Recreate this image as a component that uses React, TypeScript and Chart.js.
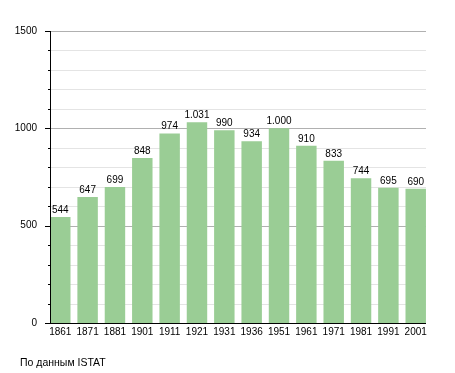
import React, { useEffect, useRef } from "react";
import { Chart, registerables } from "chart.js";

Chart.register(...registerables);

const years = ["1861", "1871", "1881", "1901", "1911", "1921", "1931", "1936", "1951", "1961", "1971", "1981", "1991", "2001"];
const population = [544, 647, 699, 848, 974, 1031, 990, 934, 1000, 910, 833, 744, 695, 690];
const yMin = 0;
const yMax = 1500;
const yStep = 100;
const yMajor = 500;
const footerText = "По данным ISTAT";

const FONT = "'Liberation Sans', Arial, sans-serif";

function fmt(v: number): string {
  return String(v).replace(/\B(?=(\d{3})+(?!\d))/g, ".");
}

export default function App() {
  const ref = useRef<HTMLCanvasElement | null>(null);

  useEffect(() => {
    if (!ref.current) return;
    const AXIS_X = 50;
    const RIGHT_X = 426;

    const plugin = {
      id: "custom",
      beforeDatasetsDraw(chart: any) {
        const { ctx } = chart;
        const y = chart.scales.y;
        ctx.save();
        for (let v = yMin + yStep; v <= yMax; v += yStep) {
          const py = Math.round(y.getPixelForValue(v)) + 0.5;
          ctx.strokeStyle = v % yMajor === 0 ? "#b0b0b0" : "#e4e4e4";
          ctx.lineWidth = 1;
          ctx.beginPath();
          ctx.moveTo(AXIS_X, py);
          ctx.lineTo(RIGHT_X, py);
          ctx.stroke();
        }
        ctx.restore();
      },
      afterDatasetsDraw(chart: any) {
        const { ctx } = chart;
        const y = chart.scales.y;
        ctx.save();
        ctx.strokeStyle = "#000";
        ctx.lineWidth = 1;
        const top = Math.round(y.getPixelForValue(yMax));
        const bottom = Math.round(y.getPixelForValue(yMin));
        ctx.beginPath();
        ctx.moveTo(AXIS_X + 0.5, top);
        ctx.lineTo(AXIS_X + 0.5, bottom + 1);
        ctx.moveTo(AXIS_X, bottom + 0.5);
        ctx.lineTo(RIGHT_X, bottom + 0.5);
        for (let v = yMin; v <= yMax; v += yStep) {
          const py = Math.round(y.getPixelForValue(v)) + 0.5;
          const len = v % yMajor === 0 ? 5 : 2;
          ctx.moveTo(AXIS_X - len, py);
          ctx.lineTo(AXIS_X, py);
        }
        ctx.stroke();

        ctx.fillStyle = "#000";
        ctx.font = `10px ${FONT}`;
        ctx.textAlign = "center";
        ctx.textBaseline = "alphabetic";
        const meta = chart.getDatasetMeta(0);
        meta.data.forEach((bar: any, i: number) => {
          ctx.fillText(fmt(population[i]), bar.x, bar.y - 4);
        });

        ctx.font = `10.5px ${FONT}`;
        ctx.textAlign = "left";
        ctx.textBaseline = "middle";
        ctx.fillText(footerText, 20, 363);
        ctx.restore();
      },
    };

    const chart = new Chart(ref.current, {
      type: "bar",
      data: {
        labels: years,
        datasets: [
          {
            data: population,
            backgroundColor: "#9acd95",
            borderWidth: 0,
            barPercentage: 0.748,
            categoryPercentage: 1,
          },
        ],
      },
      options: {
        responsive: false,
        animation: false,
        devicePixelRatio: 1,
        layout: { padding: { top: 31, right: 25.6, left: 0, bottom: 0 } },
        plugins: { legend: { display: false }, tooltip: { enabled: false } },
        scales: {
          x: {
            grid: { display: false, drawTicks: false },
            border: { display: false },
            ticks: {
              color: "#000",
              font: { family: FONT, size: 10 },
              padding: 3.5,
              maxRotation: 0,
              autoSkip: false,
            },
            afterFit(scale: any) {
              scale.height = 50;
            },
          },
          y: {
            min: yMin,
            max: yMax,
            grid: { display: false, drawTicks: false },
            border: { display: false },
            ticks: {
              stepSize: yStep,
              color: "#000",
              font: { family: FONT, size: 10 },
              padding: 9.6,
              callback: (v: any) => (Number(v) % yMajor === 0 ? String(v) : ""),
            },
            afterFit(scale: any) {
              scale.width = 46.6;
            },
          },
        },
      },
      plugins: [plugin],
    });
    return () => chart.destroy();
  }, []);

  return (
    <div style={{ position: "fixed", left: 0, top: 0, width: 455, height: 373, background: "#fff" }}>
      <canvas ref={ref} width={455} height={373} style={{ width: 455, height: 373 }} />
    </div>
  );
}
